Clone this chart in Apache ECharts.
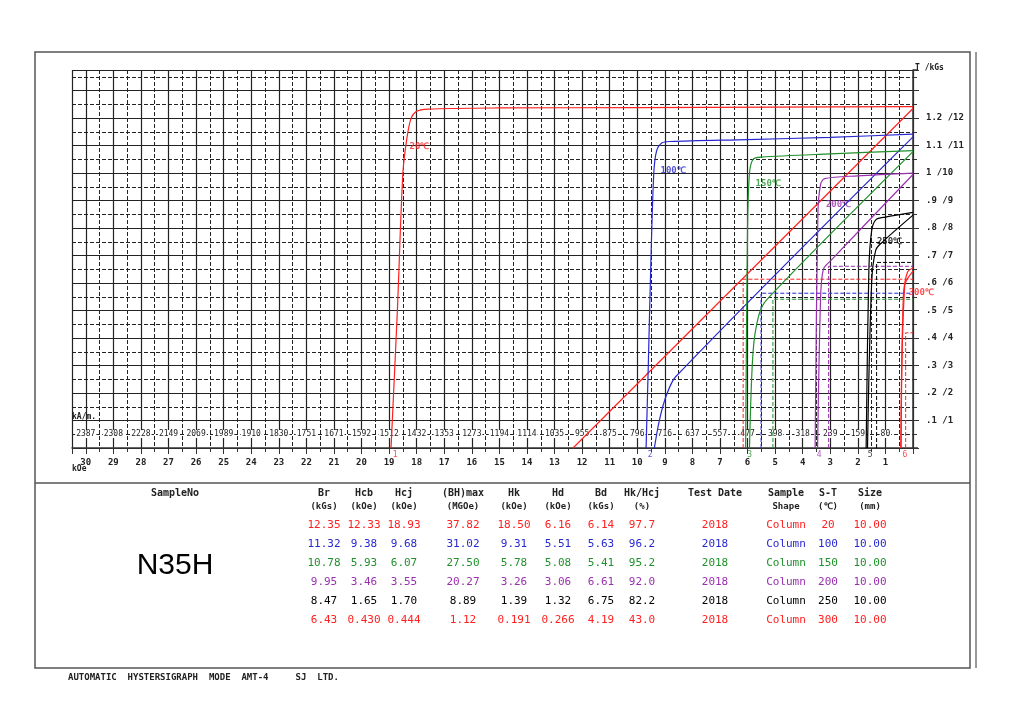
<!DOCTYPE html>
<html><head><meta charset="utf-8">
<script src="https://cdn.jsdelivr.net/npm/echarts@6/dist/echarts.min.js"></script>
<style>body{margin:0;background:#fff}#c{width:1024px;height:723px}</style></head>
<body><div id="c"></div>
<script>
const kAmLabels=['80','159','239','318','398','477','557','637','716','796','875','955','1035','1114','1194','1273','1353','1432','1512','1592','1671','1751','1830','1910','1989','2069','2149','2228','2308','2387'];
const yLabels=['.1 /1','.2 /2','.3 /3','.4 /4','.5 /5','.6 /6','.7 /7','.8 /8','.9 /9','1 /10','1.1 /11','1.2 /12'];
const colors=['#ff2020','#2828d0','#20902a','#9a30b0','#000000','#ff2020'];
const temps=['20℃','100℃','150℃','200℃','250℃','300℃'];
const jCurves=[
[[0,12.42],[5,12.4],[10,12.38],[15,12.37],[17.6,12.33],[18.0,12.25],[18.2,12.0],[18.35,11.3],[18.5,10.0],[18.7,5],[18.93,0]],
[[0,11.42],[3,11.3],[6,11.22],[8.8,11.15],[9.1,11.1],[9.3,10.8],[9.4,10],[9.5,7],[9.6,3],[9.68,0]],
[[0,10.82],[3,10.7],[5.5,10.58],[5.8,10.5],[5.93,10.0],[6.0,8],[6.07,0]],
[[0,10.0],[2,9.9],[3.2,9.8],[3.35,9.6],[3.45,8.5],[3.55,0]],
[[0,8.57],[1.0,8.4],[1.35,8.3],[1.5,7.9],[1.6,6.5],[1.70,0]],
[[0,6.55],[0.2,6.4],[0.35,5.5],[0.444,0]]];
const bCurves=[
[[0,12.35],[12.33,0]],
[[0,11.32],[8.6,2.6],[8.95,1.9],[9.2,1.0],[9.38,0]],
[[0,10.78],[5.3,5.4],[5.6,4.8],[5.8,3.5],[5.93,0]],
[[0,9.95],[3.0,6.8],[3.25,6.5],[3.35,5.5],[3.46,0]],
[[0,8.47],[1.1,7.5],[1.35,7.2],[1.5,6],[1.65,0]],
[[0,6.43],[0.3,5.9],[0.43,0]]];
const Hd=[6.16,5.51,5.08,3.06,1.32,0.266];
const Bd=[6.14,5.63,5.41,6.61,6.75,4.19];
const Hcj=[18.93,9.68,6.07,3.55,1.70,0.444];
const tempPos=[[17.9,10.95],[8.7,10.1],[5.25,9.6],[2.7,8.85],[0.85,7.5],[-0.3,5.65]];
const rows=[
['12.35','12.33','18.93','37.82','18.50','6.16','6.14','97.7','2018','Column','20','10.00'],
['11.32','9.38','9.68','31.02','9.31','5.51','5.63','96.2','2018','Column','100','10.00'],
['10.78','5.93','6.07','27.50','5.78','5.08','5.41','95.2','2018','Column','150','10.00'],
['9.95','3.46','3.55','20.27','3.26','3.06','6.61','92.0','2018','Column','200','10.00'],
['8.47','1.65','1.70','8.89','1.39','1.32','6.75','82.2','2018','Column','250','10.00'],
['6.43','0.430','0.444','1.12','0.191','0.266','4.19','43.0','2018','Column','300','10.00']];
const head1=['Br','Hcb','Hcj','(BH)max','Hk','Hd','Bd','Hk/Hcj','Test Date','Sample','S-T','Size'];
const head2=['(kGs)','(kOe)','(kOe)','(MGOe)','(kOe)','(kOe)','(kGs)','(%)','','Shape','(℃)','(mm)'];
const colX=[324,364,404,463,514,558,601,642,715,786,828,870];
const rowY=[525,544,563,582,601,620];
const mono='"DejaVu Sans Mono", monospace';

const series=[];
for(let i=0;i<6;i++){
 series.push({type:'line',data:jCurves[i],showSymbol:false,lineStyle:{color:colors[i],width:1.2},smooth:0.3,z:5,clip:false});
 series.push({type:'line',data:bCurves[i],showSymbol:false,lineStyle:{color:colors[i],width:1.2},smooth:0.3,z:5,clip:false});
 series.push({type:'line',data:[[Hd[i],0],[Hd[i],Bd[i]],[0,Bd[i]]],showSymbol:false,lineStyle:{color:colors[i],width:1,type:'dashed'},z:4});
}
series.push({type:'scatter',symbolSize:0,clip:false,data:tempPos.map((p,i)=>({value:p,label:{show:true,formatter:temps[i],color:colors[i],fontSize:9,fontFamily:mono,fontWeight:'bold'}}))});
series.push({type:'scatter',symbolSize:0,clip:false,data:Hcj.map((h,i)=>({value:[h-0.15,-0.25],label:{show:true,formatter:String(i+1),color:colors[i],fontSize:8,fontFamily:mono}}))});

const g=[];
g.push({type:'rect',shape:{x:35,y:52,width:935,height:616},style:{fill:'none',stroke:'#555',lineWidth:1.5}});
g.push({type:'line',shape:{x1:35,y1:483,x2:970,y2:483},style:{stroke:'#555',lineWidth:1.5}});
g.push({type:'line',shape:{x1:976,y1:52,x2:976,y2:668},style:{stroke:'#999',lineWidth:2}});
g.push({type:'line',shape:{x1:913,y1:70,x2:918,y2:70},style:{stroke:'#333',lineWidth:1.5}});
g.push({type:'line',shape:{x1:913,y1:448,x2:918,y2:448},style:{stroke:'#333',lineWidth:1.5}});
g.push({type:'text',x:175,y:493,style:{text:'SampleNo',font:'bold 10px '+mono,fill:'#222',align:'center',verticalAlign:'middle'}});
g.push({type:'text',x:175,y:566,style:{text:'N35H',font:'30px Arial, "Liberation Sans"',fill:'#000',align:'center',verticalAlign:'middle'}});
head1.forEach((t,i)=>g.push({type:'text',x:colX[i],y:493,style:{text:t,font:'bold 10px '+mono,fill:'#222',align:'center',verticalAlign:'middle'}}));
head2.forEach((t,i)=>g.push({type:'text',x:colX[i],y:507,style:{text:t,font:'bold 9px '+mono,fill:'#222',align:'center',verticalAlign:'middle'}}));
rows.forEach((r,j)=>r.forEach((t,i)=>g.push({type:'text',x:colX[i],y:rowY[j],style:{text:t,font:'11px '+mono,fill:colors[j],align:'center',verticalAlign:'middle'}})));
g.push({type:'text',x:68,y:678,style:{text:'AUTOMATIC  HYSTERSIGRAPH  MODE  AMT-4     SJ  LTD.',font:'bold 9px '+mono,fill:'#222',verticalAlign:'middle'}});
g.push({type:'text',x:72,y:417,style:{text:'kA/m.',font:'bold 8px '+mono,fill:'#222',verticalAlign:'middle'}});
g.push({type:'text',x:72,y:469,style:{text:'kOe',font:'bold 8px '+mono,fill:'#222',verticalAlign:'middle'}});

const fmtK=v=>{const k=Math.round(v);return (k>=1&&k<=30&&Math.abs(v-k)<1e-6)?String(k):'';};
const opt={animation:false,
 grid:{left:72,right:111,top:70,bottom:275},
 xAxis:[{type:'value',inverse:true,min:0,max:30.5,interval:1,
   axisLine:{onZero:false,lineStyle:{color:'#333',width:1.5}},axisTick:{show:true,length:6,lineStyle:{color:'#333'}},
   minorTick:{show:true,splitNumber:2,length:4},
   axisLabel:{color:'#222',fontSize:9,fontFamily:mono,fontWeight:'bold',margin:10,showMaxLabel:false,formatter:fmtK},
   splitLine:{show:true,lineStyle:{color:'#222',width:1.2}},
   minorSplitLine:{show:true,lineStyle:{color:'#222',type:'dashed',width:1}}},
  {type:'value',inverse:true,min:0,max:30.5,interval:1,position:'bottom',
   axisLine:{show:false},axisTick:{show:false},splitLine:{show:false},
   axisLabel:{inside:true,margin:10,color:'#222',fontSize:8,fontFamily:mono,showMaxLabel:false,
    backgroundColor:'#fff',padding:[0,1],
    formatter:v=>{const k=Math.round(v);return (k>=1&&k<=30&&Math.abs(v-k)<1e-6)?kAmLabels[k-1]:'';}}}],
 yAxis:{type:'value',position:'right',offset:5,min:0,max:13.75,interval:1,name:'T /kGs',nameLocation:'end',nameGap:-2,
   nameTextStyle:{color:'#222',fontSize:8,fontFamily:mono,fontWeight:'bold',align:'left',padding:[0,0,0,2]},
   axisLine:{show:true,lineStyle:{color:'#333',width:1.5}},axisTick:{show:true,inside:false,length:6},
   minorTick:{show:true,splitNumber:2,length:4},
   axisLabel:{color:'#222',fontSize:9,fontFamily:mono,fontWeight:'bold',margin:8,formatter:v=>{const k=Math.round(v);return (k>=1&&k<=12)?yLabels[k-1]:'';}},
   splitLine:{show:true,lineStyle:{color:'#222',width:1.2}},
   minorSplitLine:{show:true,lineStyle:{color:'#222',type:'dashed',width:1}}},
 series:series,graphic:g};
echarts.init(document.getElementById('c')).setOption(opt);
</script></body></html>
